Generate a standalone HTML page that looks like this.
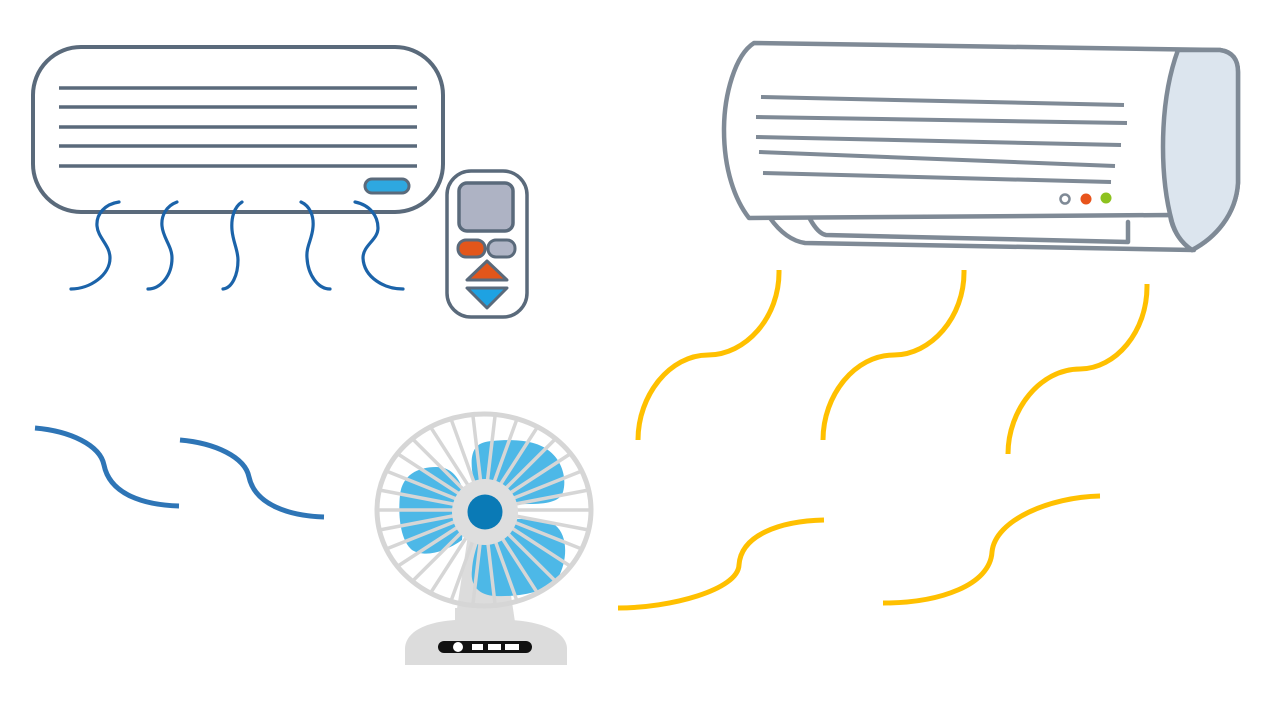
<!DOCTYPE html>
<html><head><meta charset="utf-8"><style>
html,body{margin:0;padding:0;background:#fff;}
svg{display:block;}
</style></head><body>
<svg width="1280" height="720" viewBox="0 0 1280 720" xmlns="http://www.w3.org/2000/svg">
<rect width="1280" height="720" fill="#fff"/>

<!-- Left AC -->
<rect x="33" y="47" width="410" height="165" rx="48" fill="#fff" stroke="#5a6a7b" stroke-width="4"/>
<g stroke="#5a6a7b" stroke-width="3.5" stroke-linecap="butt">
<line x1="59" y1="88" x2="417" y2="88"/>
<line x1="59" y1="107" x2="417" y2="107"/>
<line x1="59" y1="127" x2="417" y2="127"/>
<line x1="59" y1="146" x2="417" y2="146"/>
<line x1="59" y1="166" x2="417" y2="166"/>
</g>
<rect x="365" y="179" width="44" height="14" rx="7" fill="#2ea8e0" stroke="#5a6a7b" stroke-width="3"/>
<g fill="none" stroke="#1b63a9" stroke-width="3.2" stroke-linecap="round">
<path d="M119,202 C105,204 96,214 97,226 C98,238 110,245 110,258 C110,275 90,289 71,289"/>
<path d="M177,202 C166,206 161,216 162,226 C163,238 172,246 172,258 C172,276 160,289 148,289"/>
<path d="M242,202 C234,207 231,218 232,230 C233,242 238,250 238,260 C238,275 232,288 223,289"/>
<path d="M301,202 C310,206 314,216 313,227 C312,240 306,246 307,258 C308,275 318,289 330,289"/>
<path d="M355,202 C370,205 378,216 378,228 C378,240 363,245 363,258 C364,278 385,289 403,289"/>
</g>

<!-- Remote -->
<rect x="447" y="171" width="80" height="146" rx="24" fill="#fff" stroke="#5a6a7b" stroke-width="3.5"/>
<rect x="459" y="183" width="54" height="48" rx="8" fill="#aeb3c4" stroke="#5a6a7b" stroke-width="3.5"/>
<rect x="458" y="240" width="27" height="17" rx="8" fill="#e2561b" stroke="#5a6a7b" stroke-width="3"/>
<rect x="488" y="240" width="27" height="17" rx="8" fill="#b0b5c6" stroke="#5a6a7b" stroke-width="3"/>
<polygon points="487,261 467,280 507,280" fill="#e2561b" stroke="#5a6a7b" stroke-width="3" stroke-linejoin="round"/>
<polygon points="467,288 507,288 487,308" fill="#1ea2e2" stroke="#5a6a7b" stroke-width="3" stroke-linejoin="round"/>

<!-- Right AC -->
<g stroke="#7f8a96" stroke-width="4.5" stroke-linejoin="round" stroke-linecap="round">
<path d="M770,218 C780,232 792,241 805,243 L1194,250" fill="none"/>
<path d="M810,219 C815,228 820,234 826,235 L1128,242 L1128,222" fill="none"/>
<path d="M754,43 L1220,50 C1233,52 1238,60 1238,72 L1238,183 C1236,215 1215,238 1192,250 C1178,240 1172,228 1170,215 L749,218 C735,200 724,170 724,130 C724,95 735,55 754,43 Z" fill="#fff"/>
<path d="M1178,50 L1220,50 C1233,52 1238,60 1238,72 L1238,183 C1236,215 1215,238 1192,250 C1180,242 1175,232 1172,222 C1166,200 1163,175 1163,147 C1163,115 1167,80 1178,50 Z" fill="#dce5ee"/>
</g>
<g stroke="#7f8a96" stroke-width="4" stroke-linecap="butt">
<line x1="761" y1="97" x2="1124" y2="105"/>
<line x1="756" y1="117" x2="1127" y2="123"/>
<line x1="756" y1="137" x2="1121" y2="145"/>
<line x1="759" y1="152" x2="1115" y2="166"/>
<line x1="763" y1="173" x2="1111" y2="182"/>
</g>
<circle cx="1065" cy="199" r="4.5" fill="#fff" stroke="#7f8a96" stroke-width="2.5"/>
<circle cx="1086" cy="199" r="5.5" fill="#e8541c"/>
<circle cx="1106" cy="198" r="5.5" fill="#8dc21f"/>

<!-- Fan -->
<path d="M468,535 L502,535 L515,622 L455,622 Z" fill="#dcdcdc"/>
<g fill="#4db8e7">
<path d="M478,505 L472,470 C470,450 476,442 492,441 C512,439 535,440 548,450 C562,460 567,478 563,492 C560,502 545,504 530,504 Z"/>
<path d="M466,498 C460,478 452,467 436,467 C418,467 402,475 400,495 C398,515 400,540 412,550 C425,558 445,552 462,540 Z"/>
<path d="M488,520 C510,518 540,518 555,525 C568,535 568,560 558,578 C548,592 520,597 495,596 C478,595 470,585 472,570 C473,555 478,540 488,520 Z"/>
</g>
<path d="M405,665 L405,648 C406,632 425,622 455,620 L512,620 C543,622 566,632 567,648 L567,665 Z" fill="#dcdcdc"/>
<rect x="455" y="608" width="57" height="16" fill="#dcdcdc"/>
<rect x="438" y="641" width="94" height="12" rx="6" fill="#111"/>
<circle cx="458" cy="647" r="5" fill="#fff"/>
<rect x="472" y="644" width="11" height="6" fill="#fff"/>
<rect x="488" y="644" width="13" height="6" fill="#fff"/>
<rect x="505" y="644" width="14" height="6" fill="#fff"/>
<g stroke="#d6d6d6" stroke-width="3.5">
<line x1="484" y1="510" x2="591" y2="510"/>
<line x1="484" y1="510" x2="588.7" y2="530"/>
<line x1="484" y1="510" x2="581.7" y2="549"/>
<line x1="484" y1="510" x2="570.6" y2="566.4"/>
<line x1="484" y1="510" x2="555.6" y2="581.3"/>
<line x1="484" y1="510" x2="537.5" y2="593.1"/>
<line x1="484" y1="510" x2="517.1" y2="601.3"/>
<line x1="484" y1="510" x2="495.2" y2="605.5"/>
<line x1="484" y1="510" x2="472.8" y2="605.5"/>
<line x1="484" y1="510" x2="450.9" y2="601.3"/>
<line x1="484" y1="510" x2="430.5" y2="593.1"/>
<line x1="484" y1="510" x2="412.4" y2="581.3"/>
<line x1="484" y1="510" x2="397.4" y2="566.4"/>
<line x1="484" y1="510" x2="386.3" y2="549"/>
<line x1="484" y1="510" x2="379.3" y2="530"/>
<line x1="484" y1="510" x2="377" y2="510"/>
<line x1="484" y1="510" x2="379.3" y2="490"/>
<line x1="484" y1="510" x2="386.3" y2="471"/>
<line x1="484" y1="510" x2="397.4" y2="453.6"/>
<line x1="484" y1="510" x2="412.4" y2="438.7"/>
<line x1="484" y1="510" x2="430.5" y2="426.9"/>
<line x1="484" y1="510" x2="450.9" y2="418.7"/>
<line x1="484" y1="510" x2="472.8" y2="414.5"/>
<line x1="484" y1="510" x2="495.2" y2="414.5"/>
<line x1="484" y1="510" x2="517.1" y2="418.7"/>
<line x1="484" y1="510" x2="537.5" y2="426.9"/>
<line x1="484" y1="510" x2="555.6" y2="438.7"/>
<line x1="484" y1="510" x2="570.6" y2="453.6"/>
<line x1="484" y1="510" x2="581.7" y2="471"/>
<line x1="484" y1="510" x2="588.7" y2="490"/>
</g>
<ellipse cx="484" cy="510" rx="107" ry="96" fill="none" stroke="#d6d6d6" stroke-width="5"/>
<circle cx="485" cy="512" r="33" fill="#dedede"/>
<circle cx="485" cy="512" r="17.5" fill="#0a7ab6"/>

<!-- Blue wind (left) -->
<g fill="none" stroke="#2e75b6" stroke-width="5" stroke-linecap="butt">
<path d="M35,428 C70,431 100,445 104,465 C110,495 145,505 179,506"/>
<path d="M180,440 C215,443 245,457 249,477 C255,505 290,516 324,517"/>
</g>

<!-- Yellow wind -->
<g fill="none" stroke="#ffc000" stroke-width="5" stroke-linecap="butt">
<path d="M779,270 C780,318 745,355 708,355 C670,355 638,395 638,440"/>
<path d="M964,270 C965,318 930,355 894,355 C855,355 823,395 823,440"/>
<path d="M1147,284 C1148,332 1115,369 1080,369 C1040,369 1008,410 1008,454"/>
<path d="M618,608 C670,608 738,590 739,565 C741,535 780,521 824,520"/>
<path d="M883,603 C940,603 990,585 992,552 C995,520 1050,497 1100,496"/>
</g>
</svg>
</body></html>
